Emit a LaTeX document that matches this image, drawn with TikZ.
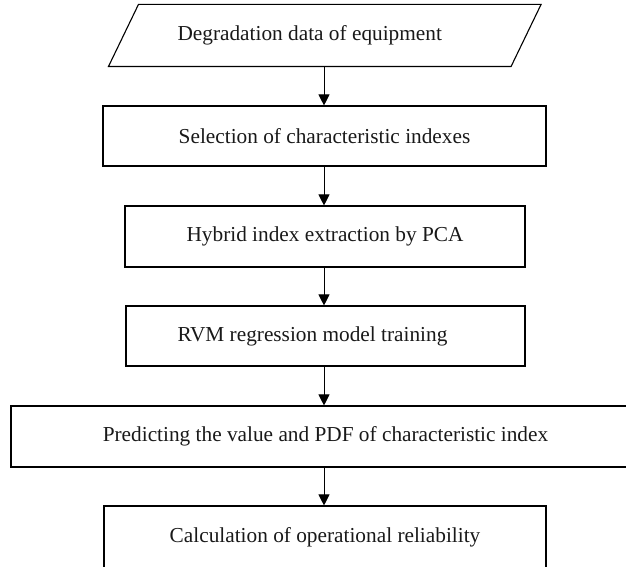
\documentclass[tikz,border=0pt]{standalone}
\usepackage{fontspec}
\setmainfont{Liberation Serif}
\usetikzlibrary{arrows.meta}
\tikzset{
  boxstyle/.style={draw=black, line width=1.1pt, rectangle, inner sep=0pt, font=\fontsize{21.3}{25}\selectfont, text=black!90},
  flowarrow/.style={draw=black, line width=0.9pt, -{Triangle[width=11pt,length=11pt]}},
}
\begin{document}
\begin{tikzpicture}[x=1pt,y=1pt]
\useasboundingbox (0,0) rectangle (626,566);
\clip (0,0) rectangle (626,566);
% parallelogram (input)
\node[boxstyle, draw=none, minimum width=401.5pt, minimum height=61pt] (p) at (324.75,530.5) {\hspace*{-30pt}Degradation data of equipment};
\draw[line width=1.1pt, line join=miter] ([xshift=-15pt]p.south west) -- ([xshift=15pt]p.north west) -- ([xshift=15pt]p.north east) -- ([xshift=-15pt]p.south east) -- cycle;
\node[boxstyle, minimum width=443pt, minimum height=60pt] (b2) at (324.5,430) {Selection of characteristic indexes};
\node[boxstyle, minimum width=400pt, minimum height=61pt] (b3) at (325,329.5) {Hybrid index extraction by PCA};
\node[boxstyle, minimum width=399pt, minimum height=60pt] (b4) at (325.5,230) {\hspace*{-26pt}RVM regression model training};
\node[boxstyle, minimum width=629pt, minimum height=61pt] (b5) at (325.5,129.5) {Predicting the value and PDF of characteristic index};
\node[boxstyle, minimum width=442pt, minimum height=62pt] (b6) at (325,29) {Calculation of operational reliability};
\coordinate (ax) at (324,0);
\draw[flowarrow] (p.south -| ax) -- (b2.north -| ax);
\draw[flowarrow] (b2.south -| ax) -- (b3.north -| ax);
\draw[flowarrow] (b3.south -| ax) -- (b4.north -| ax);
\draw[flowarrow] (b4.south -| ax) -- (b5.north -| ax);
\draw[flowarrow] (b5.south -| ax) -- (b6.north -| ax);
\end{tikzpicture}
\end{document}
